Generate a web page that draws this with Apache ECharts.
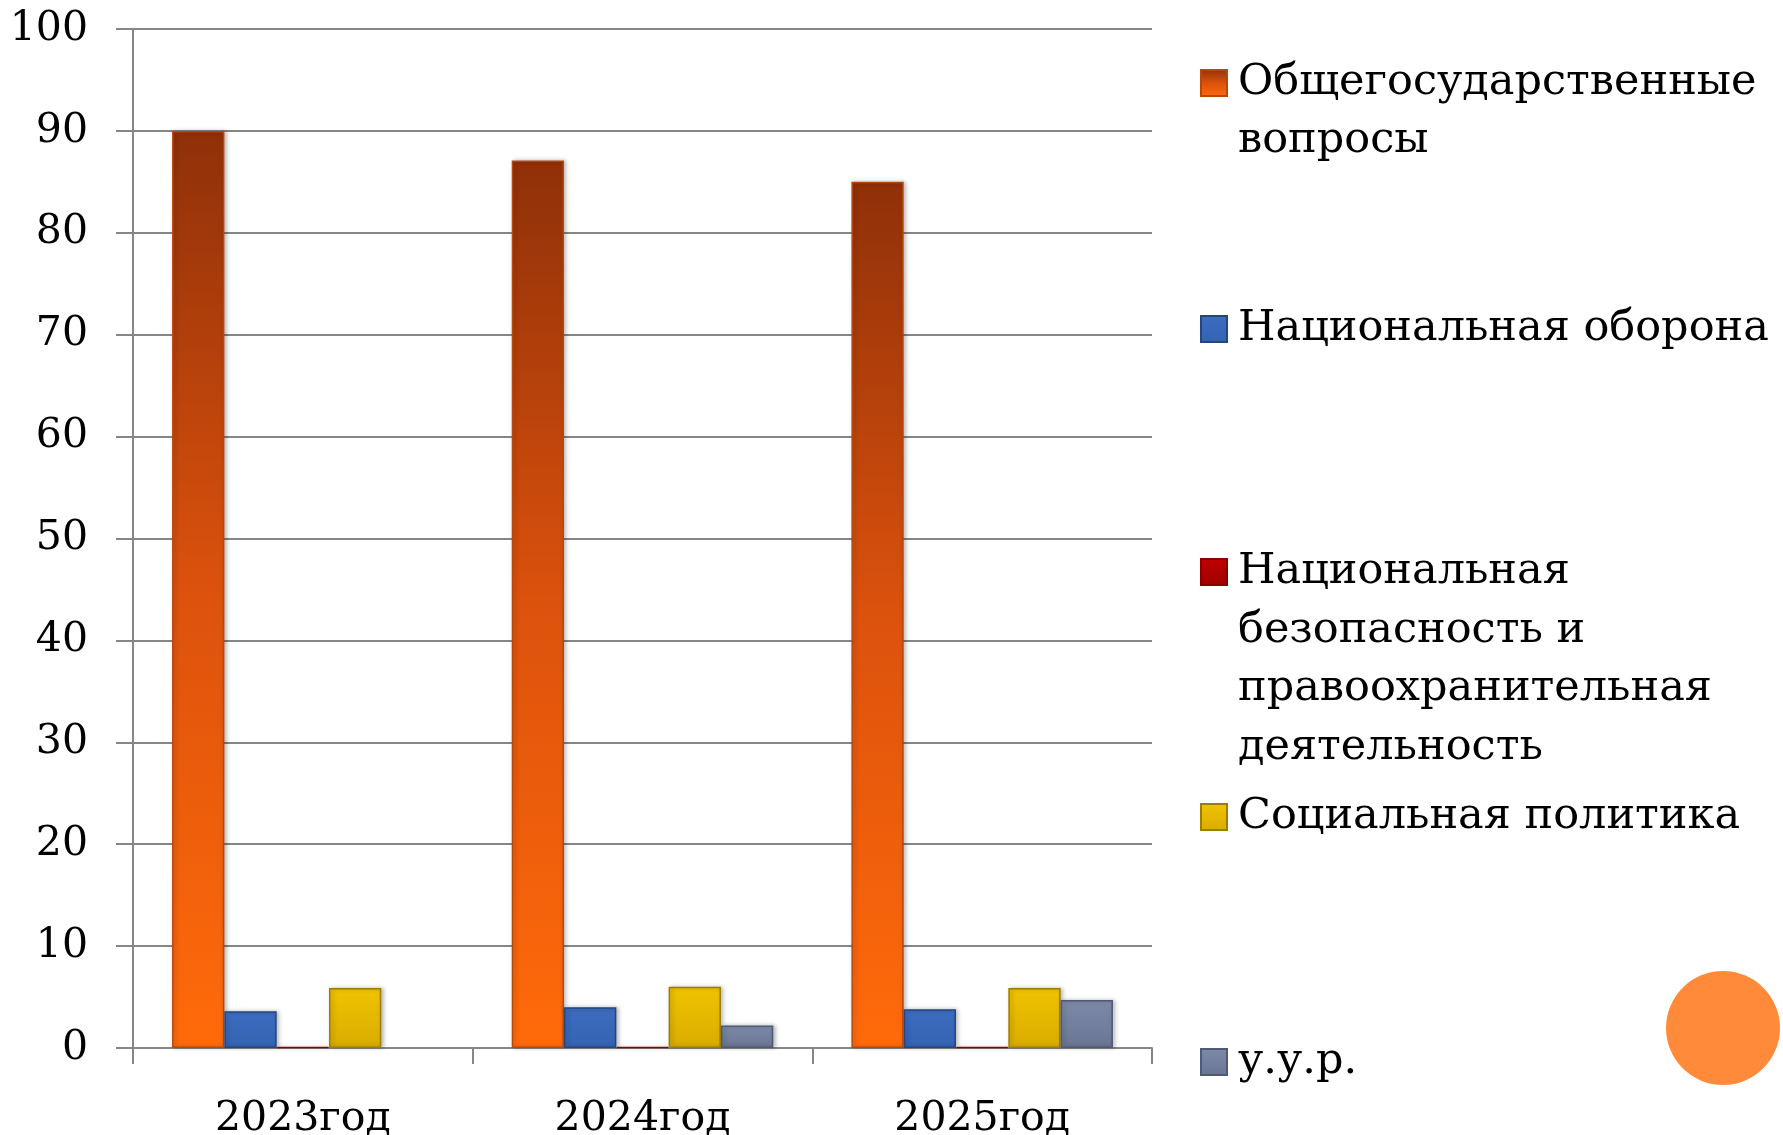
<!DOCTYPE html>
<html>
<head>
<meta charset="utf-8">
<script src="https://cdn.jsdelivr.net/npm/echarts@6/dist/echarts.min.js"></script>
<style>
html,body{margin:0;padding:0;background:#fff;}
#chart{width:1783px;height:1135px;}
</style>
</head>
<body>
<div id="chart"></div>
<script>
const categories = ['2023год', '2024год', '2025год'];
const seriesNames = ['Общегосударственные вопросы', 'Национальная оборона', 'Национальная безопасность и правоохранительная деятельность', 'Социальная политика', 'у.у.р.'];
const legendLabels = ['Общегосударственные\nвопросы', 'Национальная оборона', 'Национальная\nбезопасность и\nправоохранительная\nдеятельность', 'Социальная политика', 'у.у.р.'];
const generalQuestions = [90, 87.1, 85];
const nationalDefense = [3.6, 4.0, 3.8];
const nationalSecurity = [0.1, 0.1, 0.1];
const socialPolicy = [5.9, 6.0, 5.9];
const uur = [null, 2.2, 4.7];
const yTicks = { min: 0, max: 100, interval: 10 };

const seriesData = [generalQuestions, nationalDefense, nationalSecurity, socialPolicy, uur];

function grad(top, bottom) {
  return new echarts.graphic.LinearGradient(0, 0, 0, 1, [
    { offset: 0, color: top }, { offset: 1, color: bottom }
  ]);
}
const fills = [
  new echarts.graphic.LinearGradient(0, 0, 0, 1, [
    { offset: 0, color: '#8f3009' }, { offset: 0.5, color: '#dc520d' }, { offset: 1, color: '#ff6a0a' }
  ]),
  grad('#3d6cc0', '#3563b3'),
  grad('#c00000', '#a00000'),
  grad('#f0c300', '#d9ac00'),
  grad('#7d89a8', '#6a7694')
];
const borders = ['#b8470c', '#24457d', '#8a0000', '#9c7d00', '#4f5a75'];

const series = seriesNames.map((name, i) => ({
  name: name,
  type: 'bar',
  data: seriesData[i],
  barGap: '0%',
  barCategoryGap: '23%',
  itemStyle: {
    color: fills[i],
    borderColor: borders[i],
    borderWidth: 1.5,
    shadowColor: 'rgba(0,0,0,0.25)',
    shadowBlur: 4,
    shadowOffsetX: 2,
    shadowOffsetY: 0
  },
  emphasis: { disabled: true }
}));

const iconCenters = [83, 329, 572, 817, 1062];
const lineHeights = [58, 55, 58.5, 55, 55];
const legends = legendLabels.map((lab, i) => {
  const n = lab.split('\n').length;
  const L = lineHeights[i];
  let padded = lab;
  for (let k = 1; k < n; k++) padded = ' \n' + padded;
  return {
    data: [seriesNames[i]],
    left: 1200,
    top: iconCenters[i] - (2 * n - 1) * L / 2,
    padding: 0,
    orient: 'vertical',
    itemWidth: 26,
    itemHeight: 26,
    icon: 'rect',
    selectedMode: false,
    formatter: () => padded,
    textStyle: {
      fontFamily: 'DejaVu Serif',
      fontSize: 43,
      color: '#000',
      lineHeight: L,
      padding: [0, 0, 0, 6]
    }
  };
});

const chart = echarts.init(document.getElementById('chart'));
chart.setOption({
  backgroundColor: '#fff',
  animation: false,
  grid: { left: 133, right: 631, top: 29, bottom: 87, containLabel: false, outerBoundsMode: 'none' },
  legend: legends,
  xAxis: {
    type: 'category',
    data: categories,
    axisLine: { lineStyle: { color: '#868686', width: 2 } },
    axisTick: { show: true, length: 16, lineStyle: { color: '#868686', width: 2 } },
    axisLabel: { fontFamily: 'DejaVu Serif', fontSize: 41, color: '#000', margin: 51 }
  },
  yAxis: {
    type: 'value',
    min: yTicks.min, max: yTicks.max, interval: yTicks.interval,
    axisLine: { show: true, lineStyle: { color: '#868686', width: 2 } },
    axisTick: { show: true, length: 17, lineStyle: { color: '#868686', width: 2 } },
    splitLine: { lineStyle: { color: '#868686', width: 2 } },
    axisLabel: { fontFamily: 'DejaVu Serif', fontSize: 41, color: '#000', margin: 45, padding: [14, 0, 0, 0] }
  },
  series: series,
  graphic: [{
    type: 'circle',
    shape: { cx: 1723, cy: 1028, r: 57 },
    style: { fill: '#ff8a3a' },
    silent: true
  }]
});
</script>
</body>
</html>
